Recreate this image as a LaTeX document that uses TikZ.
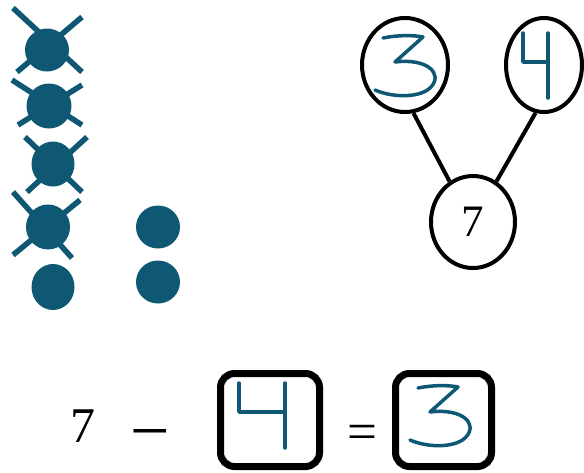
\documentclass[tikz,border=0pt]{standalone}
\usepackage{fontspec}
\setmainfont{Liberation Serif}
\usetikzlibrary{shapes.geometric}
\definecolor{inkteal}{RGB}{14,88,115}
\tikzset{
  dot/.style={fill=inkteal},
  cross/.style={draw=inkteal, line width=5.5pt},
  hand/.style={draw=inkteal, line width=3.5pt, line cap=round, line join=round},
  bubble/.style={ellipse, draw, line width=4pt, inner sep=0pt},
  answerbox/.style={draw, line width=7pt, rounded corners=14pt, inner sep=0pt},
  bond/.style={line width=4pt},
  bigtext/.style={font=\fontsize{50}{50}\selectfont, inner sep=0pt, anchor=base},
  pics/handthree/.style={code={
    \draw[hand] (10,6) .. controls (25,3) and (40,3) .. (50,5) -- (22,30)
      .. controls (55,26) and (70,42) .. (58,55)
      .. controls (48,66) and (20,66) .. (2,58);
  }},
  pics/handfour/.style args={#1}{code={
    \draw[hand] (0,0) -- (0,29) -- (#1,29);
    \draw[hand] (#1,0) -- (#1,65);
  }},
}
\begin{document}
\begin{tikzpicture}[x=1pt,y=-1pt]
\useasboundingbox (0,0) rectangle (584,472);
% crossed out dots
\draw[cross] (13,8) -- (82,72);   \draw[cross] (82,17) -- (17,72);
\draw[cross] (12,80) -- (82,125); \draw[cross] (82,85) -- (18,125);
\draw[cross] (25,137) -- (82,192);\draw[cross] (87,137) -- (27,192);
\draw[cross] (13,192) -- (72,258);\draw[cross] (80,200) -- (13,255);
\fill[dot] (47,50) ellipse [x radius=22, y radius=21.5];
\fill[dot] (49,106) ellipse [x radius=22.5, y radius=22.5];
\fill[dot] (53,164) ellipse [x radius=21.5, y radius=22.5];
\fill[dot] (48,227) ellipse [x radius=22, y radius=22.5];
\fill[dot] (53,287) ellipse [x radius=21.5, y radius=23];
\fill[dot] (158,227) ellipse [x radius=22, y radius=21.5];
\fill[dot] (158,282) ellipse [x radius=22, y radius=21.5];
% number bond
\node[bubble, minimum width=86, minimum height=94] (c3) at (405,65) {};
\node[bubble, minimum width=76, minimum height=94] (c4) at (544,65) {};
\node[bubble, minimum width=84, minimum height=92, font=\fontsize{45}{45}\selectfont] (c7) at (473,222) {7};
\draw[bond] (c3.-80) -- (c7.120);
\draw[bond] (c4.-100) -- (c7.60);
\pic at (373,32) {handthree};
\pic at (523,33) {handfour={25}};
% equation
\node[bigtext] (seven) at (83,442) {7};
\node[bigtext, font=\fontsize{70}{70}\selectfont] (minus) at (150,454) {−};
\node[answerbox, minimum width=99, minimum height=93] (b1) at (270,420) {};
\node[bigtext, font=\fontsize{53}{53}\selectfont] (eq) at (362,449) {=};
\node[answerbox, minimum width=96, minimum height=93] (b2) at (443.5,420) {};
\pic at (239,383) {handfour={46}};
\pic at (408,382) {handthree};
\end{tikzpicture}
\end{document}
